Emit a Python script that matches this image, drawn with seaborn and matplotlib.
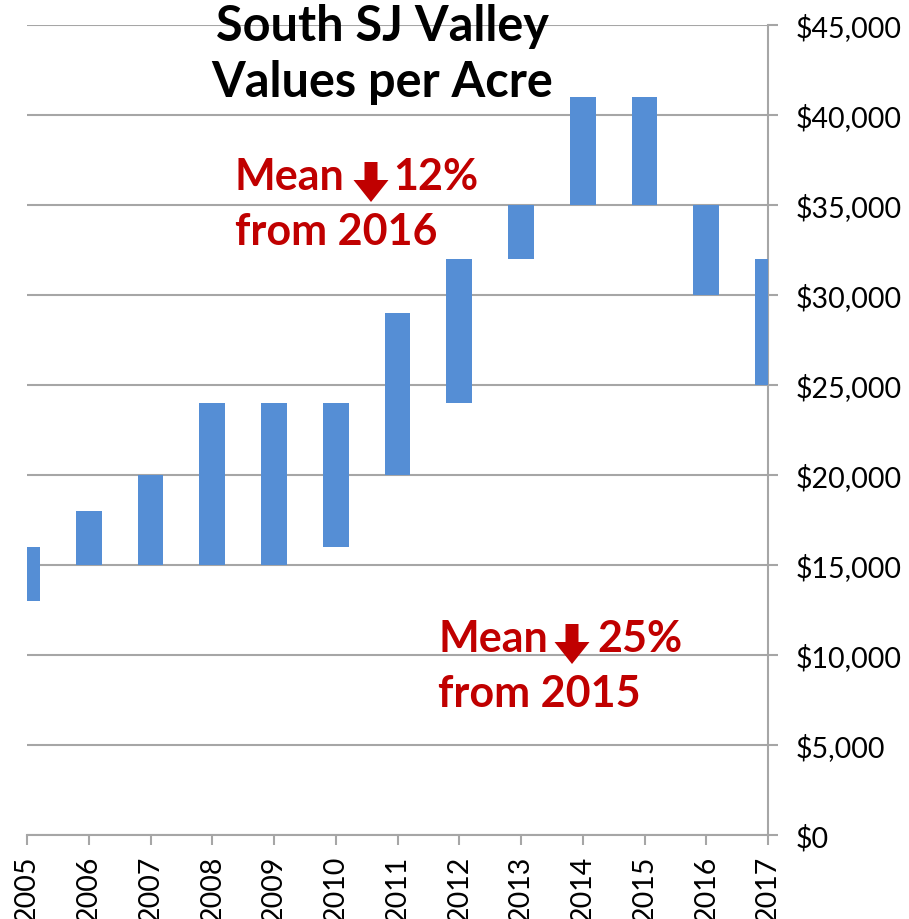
import matplotlib
matplotlib.use("Agg")
import matplotlib.pyplot as plt
import seaborn as sns
import pandas as pd
import numpy as np
from matplotlib.ticker import FuncFormatter, MultipleLocator
from matplotlib.patches import Polygon

years = ["2005", "2006", "2007", "2008", "2009", "2010", "2011",
         "2012", "2013", "2014", "2015", "2016", "2017"]
low = [13000, 15000, 15000, 15000, 15000, 16000, 20000,
       24000, 32000, 35000, 35000, 30000, 25000]
high = [16000, 18000, 20000, 24000, 24000, 24000, 29000,
        32000, 35000, 41000, 41000, 35000, 32000]

df = pd.DataFrame({"year": years, "low": low, "high": high})
df["span"] = df["high"] - df["low"]

sns.set_theme(style="white")
FONT = ["Lato", "DejaVu Sans"]
plt.rcParams["font.family"] = FONT

W, H = 909, 920
fig = plt.figure(figsize=(W / 100, H / 100), dpi=100)
ax = fig.add_axes([27 / W, 1 - 836 / H, (768 - 27) / W, (836 - 26) / H])

grid_col = "#A6A6A6"
sns.barplot(data=df, x="year", y="span", order=years, bottom=df["low"].to_numpy(),
            color="#558ED5", saturation=1, width=0.42, ax=ax, zorder=3,
            linewidth=0)

ax.set_xlim(0, len(years) - 1)
ax.set_ylim(0, 45000)
ax.yaxis.set_major_locator(MultipleLocator(5000))
ax.yaxis.set_major_formatter(FuncFormatter(lambda v, p: f"${v:,.0f}"))
ax.yaxis.tick_right()
ax.grid(axis="y", color=grid_col, linewidth=1.5, zorder=0)
ax.set_axisbelow(True)
ax.set_xlabel("")
ax.set_ylabel("")

for s in ["top", "left"]:
    ax.spines[s].set_visible(False)
for s in ["right", "bottom"]:
    ax.spines[s].set_color(grid_col)
    ax.spines[s].set_linewidth(1.5)

ax.tick_params(axis="y", which="major", right=True, left=False, direction="out",
               length=7, width=1.5, color=grid_col, labelsize=20.5, pad=13,
               labelcolor="black")
ax.tick_params(axis="x", which="major", bottom=True, direction="out",
               length=7, width=1.5, color=grid_col, labelsize=20.5, pad=7,
               labelcolor="black", labelrotation=90)
for lab in ax.get_xticklabels():
    lab.set_va("top")

# title
fig.text(382 / W, 1 - 41 / H, "South SJ Valley", ha="center", va="baseline",
         fontsize=35, fontweight="bold", color="black", family=FONT)
fig.text(382 / W, 1 - 97 / H, "Values per Acre", ha="center", va="baseline",
         fontsize=35, fontweight="bold", color="black", family=FONT)

red = "#C00000"


def down_arrow(cx, top, tip, shaft_w=13, head_w=35, head_h=22):
    pts = [(cx - shaft_w / 2, top), (cx + shaft_w / 2, top),
           (cx + shaft_w / 2, tip - head_h), (cx + head_w / 2, tip - head_h),
           (cx, tip), (cx - head_w / 2, tip - head_h),
           (cx - shaft_w / 2, tip - head_h)]
    pts = [(x / W, 1 - y / H) for x, y in pts]
    fig.patches.append(Polygon(pts, closed=True, transform=fig.transFigure,
                               facecolor=red, edgecolor="none"))


for x0, y0, arrow_cx, pct_x, pct, yr in [(235, 190, 371, 393, "12%", "2016"),
                                          (438, 652, 572, 597, "25%", "2015")]:
    fig.text(x0 / W, 1 - y0 / H, "Mean", ha="left", va="baseline",
             fontsize=31, fontweight="bold", color=red, family=FONT)
    fig.text(pct_x / W, 1 - y0 / H, pct, ha="left", va="baseline",
             fontsize=31, fontweight="bold", color=red, family=FONT)
    down_arrow(arrow_cx, y0 - 27, y0 + 13)
    fig.text(x0 / W, 1 - (y0 + 55) / H, f"from {yr}", ha="left", va="baseline",
             fontsize=31, fontweight="bold", color=red, family=FONT)

fig.savefig("out.png", dpi=100)
